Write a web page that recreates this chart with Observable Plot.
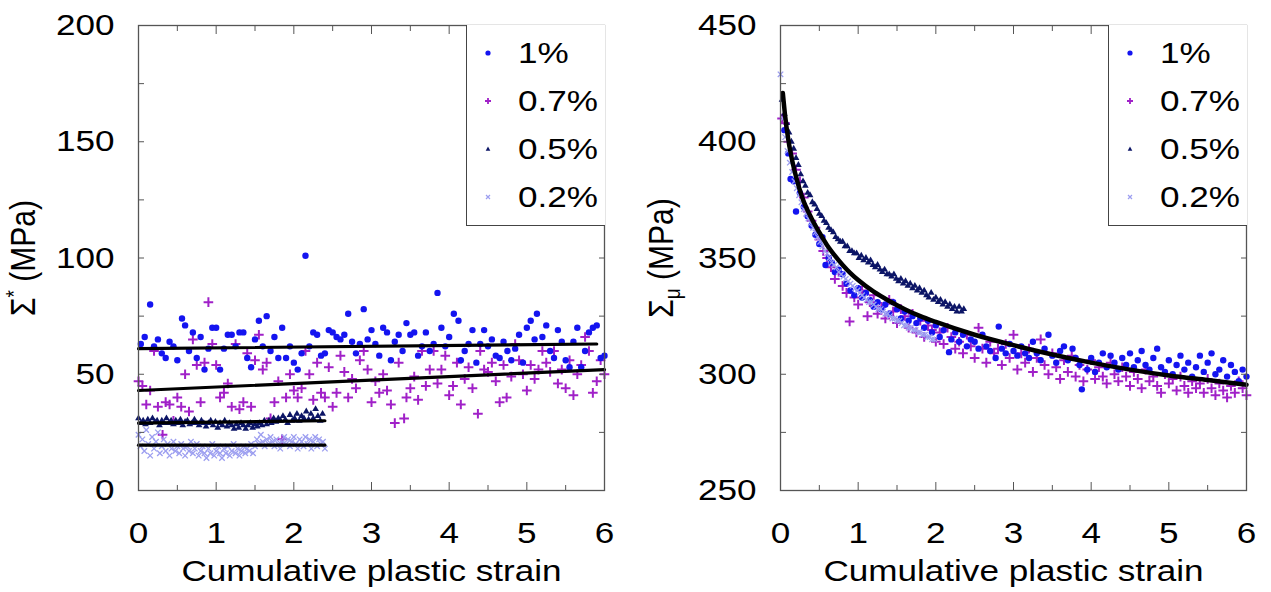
<!DOCTYPE html>
<html><head><meta charset="utf-8">
<script src="https://cdn.jsdelivr.net/npm/d3@7"></script>
<script src="https://cdn.jsdelivr.net/npm/@observablehq/plot@0.6"></script>
<style>
body{margin:0;background:#fff;font-family:"Liberation Sans",Arial,sans-serif;}
#wrap{position:relative;width:1271px;height:592px;overflow:hidden;}
.panel{position:absolute;top:0;}
.ytitle{position:absolute;font-size:30px;white-space:nowrap;color:#000;line-height:1;}
.legend{position:absolute;border-left:1.3px solid #444;border-bottom:1.3px solid #444;box-sizing:border-box;background:#fff;}
.legend .row{position:absolute;left:0;height:30px;width:100%;}
.legend svg{position:absolute;left:13px;top:7px;}
.legend span{position:absolute;left:51px;top:0;font-size:30px;line-height:30px;transform:scaleX(1.17);transform-origin:left center;color:#000;}
</style></head><body><div id="wrap"></div>
<script>
// ---------- data ----------
const xTicks = [0,1,2,3,4,5,6];
const xTickLabels = ["0","1","2","3","4","5","6"];
const xMinorTicks = [0.5,1.5,2.5,3.5,4.5,5.5];
const yTicksLeft = [0,50,100,150,200];
const yMinorLeft = [0,25,50,75,100,125,150,175,200];
const yTicksRight = [250,300,350,400,450];
const yMinorRight = [250,275,300,325,350,375,400,425,450];
const seriesNames = ["1%","0.7%","0.5%","0.2%"];
const xTitle = "Cumulative plastic strain";

// Left panel: Σ* (MPa)
const left1 = [[0.03,63],[0.08,66],[0.15,80],[0.2,62],[0.25,65],[0.3,59],[0.35,57],[0.4,64],[0.45,62],[0.5,56],[0.56,74],[0.6,71],[0.65,60],[0.7,68],[0.75,57],[0.8,66],[0.85,52],[0.9,61],[0.95,70],[1.0,70],[1.05,52],[1.1,61],[1.15,67],[1.2,67],[1.25,62],[1.3,68],[1.35,68],[1.4,57],[1.45,53],[1.5,65],[1.55,73],[1.6,62],[1.65,75],[1.7,60],[1.75,66],[1.8,57],[1.85,70],[1.9,57],[1.95,62],[2.0,55],[2.05,52],[2.1,59],[2.15,101],[2.2,62],[2.25,68],[2.3,67],[2.35,58],[2.4,59],[2.45,69],[2.5,68],[2.55,66],[2.6,65],[2.65,67],[2.7,76],[2.75,64],[2.8,59],[2.85,63],[2.9,78],[2.95,65],[3.0,69],[3.05,63],[3.1,58],[3.15,70],[3.2,68],[3.25,56],[3.3,64],[3.35,67],[3.4,60],[3.45,72],[3.5,67],[3.55,68],[3.6,58],[3.65,62],[3.7,68],[3.75,60],[3.8,63],[3.85,85],[3.9,70],[3.95,62],[4.0,66],[4.06,76],[4.12,73],[4.15,56],[4.2,60],[4.25,63],[4.3,69],[4.35,55],[4.4,63],[4.45,69],[4.5,62],[4.55,65],[4.6,58],[4.65,57],[4.7,64],[4.75,60],[4.8,56],[4.85,61],[4.9,67],[4.95,55],[5.0,70],[5.05,73],[5.1,65],[5.13,76],[5.2,66],[5.25,71],[5.3,60],[5.35,57],[5.4,69],[5.45,64],[5.5,56],[5.55,53],[5.6,64],[5.65,70],[5.7,53],[5.75,60],[5.8,68],[5.85,70],[5.9,71],[5.95,57],[6.0,58]];
const left07 = [[0.0,47],[0.05,45],[0.1,37],[0.15,43],[0.2,60],[0.25,36],[0.31,24],[0.35,38],[0.4,37],[0.45,30],[0.5,40],[0.55,36],[0.6,50],[0.65,34],[0.7,65],[0.75,54],[0.8,38],[0.85,55],[0.9,81],[0.95,63],[1.0,54],[1.05,40],[1.1,42],[1.15,46],[1.2,36],[1.25,63],[1.3,35],[1.35,38],[1.4,59],[1.45,36],[1.5,56],[1.55,67],[1.6,52],[1.65,55],[1.7,31],[1.75,38],[1.8,47],[1.85,22],[1.9,40],[1.95,50],[2.0,43],[2.05,40],[2.1,44],[2.15,60],[2.2,50],[2.25,39],[2.3,55],[2.35,42],[2.4,40],[2.45,53],[2.5,36],[2.55,42],[2.6,58],[2.65,51],[2.7,40],[2.75,48],[2.8,44],[2.85,56],[2.9,60],[2.95,52],[3.0,38],[3.05,47],[3.1,42],[3.15,50],[3.2,43],[3.25,37],[3.3,29],[3.35,55],[3.42,31],[3.45,40],[3.5,44],[3.55,49],[3.6,39],[3.65,60],[3.7,45],[3.75,52],[3.8,60],[3.85,46],[3.9,52],[3.95,58],[4.0,41],[4.05,45],[4.1,55],[4.15,37],[4.2,48],[4.25,53],[4.3,44],[4.37,33],[4.4,60],[4.45,52],[4.5,51],[4.55,55],[4.6,47],[4.65,38],[4.7,54],[4.74,40],[4.8,49],[4.85,63],[4.9,56],[4.95,50],[5.0,43],[5.05,54],[5.1,48],[5.15,52],[5.2,60],[5.25,55],[5.3,51],[5.35,60],[5.4,46],[5.45,52],[5.5,44],[5.55,56],[5.6,41],[5.65,50],[5.7,54],[5.75,66],[5.8,60],[5.85,42],[5.9,47],[5.95,56],[6.0,50]];
const left05 = [[0.0,31],[0.03,29],[0.06,30],[0.09,28.5],[0.12,30.5],[0.15,29],[0.18,31],[0.21,29.5],[0.24,30],[0.27,28],[0.3,30],[0.33,29],[0.36,31],[0.39,29],[0.42,30],[0.45,28.5],[0.48,30],[0.51,29],[0.54,30.5],[0.57,28],[0.6,29.5],[0.63,30],[0.66,28.5],[0.69,29],[0.72,30.5],[0.75,29],[0.78,28],[0.81,30],[0.84,29],[0.87,27.5],[0.9,29],[0.93,30],[0.96,28],[0.99,29.5],[1.02,27],[1.05,29],[1.08,28],[1.11,30],[1.14,27.5],[1.17,29],[1.2,28],[1.23,26.5],[1.26,28.5],[1.29,27],[1.32,29],[1.35,28],[1.38,26.5],[1.41,28],[1.44,29],[1.47,27],[1.5,28.5],[1.53,27.5],[1.56,29],[1.59,28],[1.62,30],[1.65,28.5],[1.68,30],[1.71,29],[1.74,31],[1.77,29.5],[1.8,31],[1.83,30],[1.86,32],[1.89,30.5],[1.92,29],[1.95,32.5],[1.98,30],[2.01,31],[2.04,33],[2.07,30],[2.1,32],[2.13,31],[2.16,34],[2.19,30.5],[2.22,33],[2.25,31],[2.28,35],[2.31,32],[2.34,30],[2.37,33]];
const left02 = [[0.0,24],[0.025,19],[0.05,22],[0.075,17],[0.1,26],[0.125,20],[0.15,15],[0.175,23],[0.2,18],[0.225,21],[0.25,25],[0.275,16],[0.3,19],[0.325,22],[0.35,17],[0.375,20],[0.4,15],[0.425,18],[0.45,21],[0.475,17],[0.5,19],[0.525,16],[0.55,20],[0.575,18],[0.6,15],[0.625,19],[0.65,17],[0.675,21],[0.7,16],[0.725,18],[0.75,20],[0.775,15],[0.8,17],[0.825,19],[0.85,16],[0.875,14],[0.9,18],[0.925,16],[0.95,20],[0.975,15],[1.0,17],[1.025,19],[1.05,16],[1.075,14],[1.1,18],[1.125,16],[1.15,19],[1.175,15],[1.2,17],[1.225,20],[1.25,16],[1.275,18],[1.3,15],[1.325,17],[1.35,19],[1.375,16],[1.4,18],[1.425,17],[1.45,20],[1.475,16],[1.5,19],[1.525,22],[1.55,20],[1.575,24],[1.6,21],[1.625,19],[1.65,22],[1.675,20],[1.7,23],[1.725,21],[1.75,19],[1.775,22],[1.8,20],[1.825,18],[1.85,21],[1.875,23],[1.9,20],[1.925,22],[1.95,19],[1.975,21],[2.0,23],[2.025,20],[2.05,18],[2.075,22],[2.1,21],[2.125,19],[2.15,23],[2.175,20],[2.2,22],[2.225,18],[2.25,21],[2.275,23],[2.3,19],[2.325,22],[2.35,20],[2.375,21],[2.4,18]];
const leftFit1 = [[0,61],[5.9,63]];
const leftFit07 = [[0,43],[6,52]];
const leftFit05 = [[0,29],[2.4,30]];
const leftFit02 = [[0,19.5],[2.4,19.5]];

// Right panel: Σμ (MPa)
const right1 = [[0.05,405],[0.1,395],[0.13,384],[0.17,383],[0.2,370],[0.25,378],[0.3,372],[0.35,368],[0.4,364],[0.45,360],[0.5,356],[0.54,359],[0.58,347],[0.62,350],[0.66,348],[0.7,344],[0.75,345],[0.8,343],[0.85,339],[0.9,336],[0.95,334],[1.0,337],[1.05,333],[1.1,335],[1.15,332],[1.2,329],[1.25,331],[1.3,328],[1.35,330],[1.4,326],[1.45,331],[1.5,328],[1.55,324],[1.6,327],[1.65,323],[1.7,325],[1.75,322],[1.8,324],[1.85,320],[1.9,323],[1.95,318],[2.0,321],[2.05,316],[2.1,319],[2.17,309.5],[2.2,315],[2.25,318],[2.3,314],[2.35,317],[2.4,312],[2.45,315],[2.5,314],[2.55,311],[2.6,317],[2.65,312],[2.7,310],[2.77,307],[2.81,320.5],[2.85,311],[2.9,309],[2.95,313],[3.0,310],[3.05,308],[3.1,312],[3.15,309],[3.2,307],[3.25,314],[3.3,309],[3.35,306],[3.4,311],[3.45,317],[3.5,308],[3.55,305],[3.6,310],[3.65,312],[3.7,306],[3.76,311],[3.8,307],[3.85,304],[3.88,293.5],[3.95,302],[4.0,307],[4.05,301],[4.1,305],[4.15,309],[4.2,303],[4.25,308],[4.3,305],[4.35,302],[4.4,307],[4.45,304],[4.5,309],[4.55,303],[4.6,306],[4.65,310],[4.7,304],[4.75,302],[4.8,307],[4.85,311],[4.9,303],[4.95,301],[5.0,306],[5.05,300],[5.1,304],[5.15,308],[5.2,302],[5.25,305],[5.3,299],[5.35,303],[5.4,308],[5.45,301],[5.5,305],[5.55,309],[5.6,300],[5.65,302],[5.7,306],[5.75,299],[5.8,304],[5.85,301],[5.9,297],[5.95,302],[6.0,299]];
const right07 = [[0.02,410],[0.06,408],[0.1,400],[0.15,395],[0.2,388],[0.25,383],[0.3,376],[0.35,370],[0.4,366],[0.45,363],[0.5,358],[0.55,353],[0.6,350],[0.65,346],[0.7,341],[0.75,344],[0.8,338],[0.85,335],[0.89,322.7],[0.95,333],[1.0,330],[1.05,336],[1.12,325],[1.15,331],[1.2,334],[1.25,326],[1.3,329],[1.35,324],[1.4,332],[1.45,327],[1.5,322],[1.55,328],[1.6,325],[1.65,320],[1.7,326],[1.75,318],[1.8,323],[1.85,316],[1.9,321],[1.95,319],[2.0,314],[2.05,318],[2.1,313],[2.15,320],[2.2,316],[2.25,311],[2.3,314],[2.35,309],[2.4,317],[2.45,312],[2.5,307],[2.55,320],[2.6,311],[2.65,305],[2.7,314],[2.75,309],[2.8,311],[2.85,304],[2.9,313],[2.95,307],[3.0,317],[3.05,302],[3.1,309],[3.15,305],[3.2,311],[3.25,301],[3.3,307],[3.35,315],[3.4,304],[3.45,300],[3.5,309],[3.55,303],[3.6,298],[3.65,306],[3.7,301],[3.75,308],[3.8,299],[3.85,304],[3.9,297],[3.95,302],[4.0,306],[4.05,298],[4.1,303],[4.15,299],[4.2,296],[4.25,305],[4.3,300],[4.35,297],[4.4,303],[4.45,299],[4.5,295],[4.55,301],[4.6,298],[4.65,294],[4.7,302],[4.75,297],[4.8,299],[4.85,295],[4.9,292],[4.95,300],[5.0,296],[5.05,298],[5.1,293],[5.15,299],[5.2,295],[5.25,292],[5.3,297],[5.35,294],[5.4,296],[5.45,292],[5.5,298],[5.55,294],[5.6,291],[5.65,296],[5.7,293],[5.75,290],[5.8,295],[5.85,292],[5.9,297],[5.95,294],[6.0,291]];
const right05 = [[0.02,418],[0.05,412],[0.08,408],[0.11,404],[0.14,400],[0.17,397],[0.2,393],[0.23,390],[0.26,386],[0.29,383],[0.32,381],[0.35,378],[0.38,377],[0.41,374],[0.44,373],[0.47,371],[0.5,369],[0.53,368],[0.56,366],[0.59,365],[0.62,363],[0.65,362],[0.68,361],[0.71,359],[0.74,358],[0.77,357],[0.8,357],[0.83,355],[0.86,355],[0.89,353],[0.92,353],[0.95,352],[0.98,352],[1.01,350],[1.04,351],[1.07,349],[1.1,350],[1.13,348],[1.16,349],[1.19,347],[1.22,346],[1.25,347],[1.28,345],[1.31,344],[1.34,345],[1.37,343],[1.4,343],[1.43,342],[1.46,343],[1.49,341],[1.52,340],[1.55,341],[1.58,339],[1.61,340],[1.64,338],[1.67,339],[1.7,337],[1.73,338],[1.76,336],[1.79,337],[1.82,335],[1.85,336],[1.88,334],[1.91,333],[1.94,335],[1.97,332],[2.0,333],[2.03,331],[2.06,332],[2.09,330],[2.12,331],[2.15,329],[2.18,330],[2.21,328],[2.24,329],[2.27,327],[2.3,329],[2.33,327],[2.36,328]];
const right02 = [[0.0,429],[0.03,410],[0.06,402],[0.09,396],[0.12,391],[0.15,387],[0.18,383],[0.21,380],[0.24,377],[0.27,374],[0.3,371],[0.33,369],[0.36,367],[0.39,365],[0.42,363],[0.45,361],[0.48,359],[0.51,357],[0.54,355],[0.57,353],[0.6,352],[0.63,350],[0.66,348],[0.69,347],[0.72,346],[0.75,344],[0.78,343],[0.81,342],[0.84,341],[0.87,340],[0.9,339],[0.93,338],[0.96,337],[0.99,336],[1.02,335],[1.05,334],[1.08,333],[1.11,332],[1.14,331],[1.17,331],[1.2,330],[1.23,329],[1.26,328],[1.29,328],[1.32,327],[1.35,326],[1.38,326],[1.41,325],[1.44,324],[1.47,324],[1.5,323],[1.53,323],[1.56,322],[1.59,321],[1.62,321],[1.65,320],[1.68,320],[1.71,319],[1.74,319],[1.77,318],[1.8,318],[1.83,317],[1.86,317],[1.89,316],[1.92,316],[1.95,315],[1.98,315]];
const rightFit = [[0.03,421],[0.06,411],[0.1,401],[0.15,392],[0.2,385],[0.28,376],[0.4,367],[0.5,361],[0.6,355.5],[0.7,351],[0.8,347],[0.9,343.5],[1.0,340.5],[1.2,335.5],[1.4,331.5],[1.6,328],[1.8,325],[2.0,322.5],[2.5,317],[3.0,312.5],[3.5,308.5],[4.0,305],[4.5,302],[5.0,299.5],[5.5,297.5],[6.0,295.5]];

// ---------- styling ----------
const C1 = "#1414f0", C07 = "#a020c8", C05 = "#0c1566", C02 = "#9c9ef0";
const FONT = '"Liberation Sans", Arial, sans-serif';

function panel({yDomain, yTicks, yMinor, s1, s07, s05, s02, lines, curve, lineWidth, width, marginLeft, marginRight}) {
  const X = d => d[0], Y = d => d[1];
  const marks = [
    Plot.dot(s07, {x: X, y: Y, symbol: "plus", r: 3.2, stroke: C07, strokeWidth: 2}),
    Plot.dot(s1, {x: X, y: Y, r: 3.2, fill: C1}),
    Plot.dot(s02, {x: X, y: Y, symbol: "times", r: 2.6, stroke: C02, strokeWidth: 1.3}),
    Plot.dot(s05, {x: X, y: Y, symbol: "triangle", r: 2.5, fill: C05}),
  ];
  for (const l of lines) marks.push(Plot.line(l, {x: X, y: Y, stroke: "#000", strokeWidth: lineWidth, curve: curve}));
  marks.push(
    Plot.frame({stroke: "#555", strokeWidth: 1.3}),
    Plot.axisX({anchor: "bottom", ticks: xTicks, tickSize: 0, tickPadding: 31, label: null, fontSize: 30, tickFormat: (d) => xTickLabels[xTicks.indexOf(d)]}),
    Plot.axisX({anchor: "bottom", ticks: xTicks, tickSize: -8, tickFormat: () => "", label: null, stroke: "#555"}),
    Plot.axisX({anchor: "bottom", ticks: xMinorTicks, tickSize: -5, tickFormat: () => "", label: null, stroke: "#555"}),
    Plot.axisX({anchor: "top", ticks: xTicks, tickSize: -8, tickFormat: () => "", label: null, stroke: "#555"}),
    Plot.axisX({anchor: "top", ticks: xMinorTicks, tickSize: -5, tickFormat: () => "", label: null, stroke: "#555"}),
    Plot.axisY({anchor: "left", ticks: yTicks, tickSize: 0, tickPadding: 24, label: null, fontSize: 30}),
    Plot.axisY({anchor: "left", ticks: yMinor, tickSize: -6, tickFormat: () => "", label: null, stroke: "#555"}),
    Plot.axisY({anchor: "right", ticks: yMinor, tickSize: -6, tickFormat: () => "", label: null, stroke: "#555"}),
    Plot.text([xTitle], {frameAnchor: "bottom", dy: 90, fontSize: 30, text: d => d})
  );
  const svg = Plot.plot({
    width, height: 592, marginLeft, marginRight, marginTop: 25, marginBottom: 102,
    x: {domain: [0, 6]}, y: {domain: yDomain},
    style: {fontFamily: FONT, fontSize: "30px", color: "#000", background: "transparent", overflow: "visible"},
    marks
  });
  svg.querySelectorAll("text").forEach(t => {
    const tr = t.getAttribute("transform") || "";
    t.setAttribute("transform", tr + " scale(1.17,1)");
  });
  return svg;
}

const wrap = document.getElementById("wrap");
const leftSvg = panel({yDomain: [0, 200], yTicks: yTicksLeft, yMinor: yMinorLeft, s1: left1, s07: left07, s05: left05, s02: left02,
  lines: [leftFit1, leftFit07, leftFit05, leftFit02], curve: "linear", lineWidth: 3.2, width: 635, marginLeft: 138, marginRight: 31});
const rightSvg = panel({yDomain: [250, 450], yTicks: yTicksRight, yMinor: yMinorRight, s1: right1, s07: right07, s05: right05, s02: right02,
  lines: [rightFit], curve: "monotone-x", lineWidth: 4.5, width: 636, marginLeft: 145, marginRight: 25});
leftSvg.classList.add("panel"); leftSvg.style.left = "0px";
rightSvg.classList.add("panel"); rightSvg.style.left = "635px";
wrap.appendChild(leftSvg); wrap.appendChild(rightSvg);

// y titles
function ytitle(html, cx, cy) {
  const d = document.createElement("div");
  d.className = "ytitle"; d.innerHTML = html;
  d.style.left = cx + "px"; d.style.top = cy + "px";
  d.style.transform = "translate(-50%,-50%) rotate(-90deg) scaleY(1.17)";
  wrap.appendChild(d);
}
ytitle('Σ<sup style="font-size:19px;vertical-align:12px">*</sup> (MPa)', 22, 258);
ytitle('Σ<sub style="font-size:19px;vertical-align:-6px">μ</sub> (MPa)', 664, 258);

// legends
const markerSvg = [
  '<svg width="16" height="16"><circle cx="8" cy="8" r="2.6" fill="' + C1 + '"/></svg>',
  '<svg width="16" height="16"><path d="M5,8H11M8,5V11" stroke="' + C07 + '" stroke-width="1.8"/></svg>',
  '<svg width="16" height="16"><path d="M8,5.5L10.3,9.8H5.7Z" fill="' + C05 + '"/></svg>',
  '<svg width="16" height="16"><path d="M6,6L10,10M10,6L6,10" stroke="' + C02 + '" stroke-width="1.2"/></svg>'
];
const rowY = [38, 86, 134, 182];
function legend(left) {
  const d = document.createElement("div");
  d.className = "legend";
  d.style.left = left + "px"; d.style.top = "25px"; d.style.width = "139px"; d.style.height = "201px";
  seriesNames.forEach((name, i) => {
    const r = document.createElement("div");
    r.className = "row"; r.style.top = rowY[i] - 25 + "px";
    r.innerHTML = markerSvg[i] + "<span>" + name + "</span>";
    d.appendChild(r);
  });
  wrap.appendChild(d);
}
legend(466);
legend(1108);
</script></body></html>
